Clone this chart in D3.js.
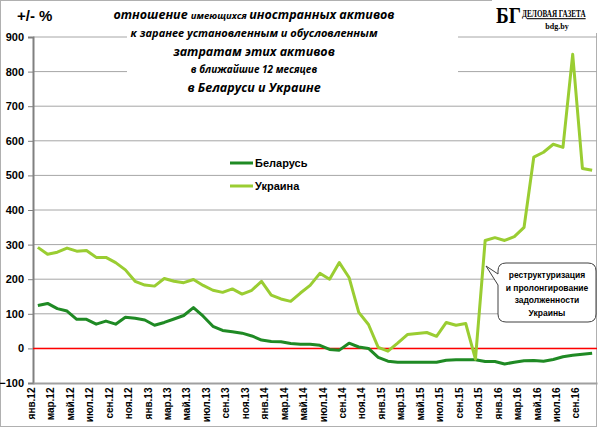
<!DOCTYPE html>
<html>
<head>
<meta charset="utf-8">
<script src="https://cdn.jsdelivr.net/npm/d3@7"></script>
<style>
  body { margin: 0; background: #fff; }
  svg text { font-family: "Liberation Sans", Arial, sans-serif; }
</style>
</head>
<body>
<div id="container"></div>
<script>
/* CONSTANTS AND GLOBALS */
const width = 600,
  height = 429,
  margin = { top: 37, bottom: 46, left: 33, right: 3 };

// month labels, every month jan.12 .. oct.16
const monthNames = ["янв", "фев", "мар", "апр", "май", "июн", "июл", "авг", "сен", "окт", "ноя", "дек"];
const years = ["12", "13", "14", "15", "16"];
const categories = years.flatMap(y => monthNames.map(m => m + "." + y)).slice(0, 58);

const belarus = [124, 130, 115, 108, 84, 84, 70, 79, 70, 90, 87, 82,
  67, 75, 85, 95, 118, 93, 64, 52, 48, 44, 36, 24,
  20, 19, 14, 12, 12, 9, -3, -5, 15, 4, 0, -26,
  -37, -40, -40, -40, -40, -40, -34, -33, -33, -33, -38, -38,
  -45, -40, -36, -35, -37, -32, -24, -20, -17, -14];

const ukraine = [292, 272, 278, 290, 281, 283, 263, 263, 248, 227, 194, 183,
  180, 202, 194, 190, 199, 182, 168, 162, 172, 157, 168, 194,
  154, 143, 136, 160, 182, 217, 200, 248, 205, 104, 69, 3,
  -8, 15, 40, 43, 46, 35, 75, 67, 72, -31, 312, 320,
  312, 323, 350, 553, 567, 590, 581, 850, 520, 515];

const yTicks = [-100, 0, 100, 200, 300, 400, 500, 600, 700, 800, 900];

const seriesNames = ["Беларусь", "Украина"];
const colors = ["#1f8a24", "#9acd32"];

const svg = d3.select("#container")
  .append("svg")
  .attr("width", width)
  .attr("height", height);

// outer frame
svg.append("rect")
  .attr("x", 0.5).attr("y", 0.5)
  .attr("width", width - 4).attr("height", height - 3)
  .attr("fill", "#fff")
  .attr("stroke", "#b0b0b0");

// scales
const xScale = d3.scaleBand()
  .domain(categories)
  .range([margin.left, width - margin.right]);

const yScale = d3.scaleLinear()
  .domain([-100, 900])
  .range([height - margin.bottom, margin.top]);

const xPos = i => xScale(categories[i]) + xScale.bandwidth() / 2;

// grid lines
svg.append("g")
  .selectAll("line")
  .data(yTicks.filter(d => d > -100))
  .join("line")
  .attr("x1", margin.left)
  .attr("x2", width - margin.right)
  .attr("y1", d => yScale(d))
  .attr("y2", d => yScale(d))
  .attr("stroke", "#a6a6a6")
  .attr("stroke-width", 1);

// y axis
const yAxis = d3.axisLeft(yScale).tickValues(yTicks).tickSize(5).tickPadding(4);
const yG = svg.append("g")
  .attr("transform", `translate(${margin.left},0)`)
  .call(yAxis);
yG.select(".domain").attr("stroke", "#808080").attr("stroke-width", 2);
yG.selectAll(".tick line").attr("stroke", "#808080");
yG.selectAll(".tick text")
  .attr("font-size", 11)
  .attr("font-weight", "bold")
  .attr("fill", "#000");

// x axis
const xAxis = d3.axisBottom(xScale)
  .tickValues(categories.filter((d, i) => i % 2 === 0))
  .tickSize(0)
  .tickPadding(5);
const xG = svg.append("g")
  .attr("transform", `translate(0,${height - margin.bottom})`)
  .call(xAxis);
xG.select(".domain").attr("stroke", "#a0a0a0").attr("stroke-width", 2);
xG.selectAll(".tick text")
  .attr("transform", "rotate(-90)")
  .attr("text-anchor", "end")
  .attr("dx", "-0.45em")
  .attr("dy", "-0.3em")
  .attr("x", 0)
  .attr("y", 0)
  .attr("font-size", 10)
  .attr("font-weight", "bold")
  .attr("fill", "#000");

// title block covers the grid
svg.append("rect")
  .attr("x", 127).attr("y", 2)
  .attr("width", 331).attr("height", 92)
  .attr("fill", "#fff");

// zero line
svg.append("line")
  .attr("x1", margin.left)
  .attr("x2", width - margin.right)
  .attr("y1", yScale(0))
  .attr("y2", yScale(0))
  .attr("stroke", "#ff0000")
  .attr("stroke-width", 1.5);

// lines
const lineGen = d3.line()
  .x((d, i) => xPos(i))
  .y(d => yScale(d));

svg.selectAll(".line")
  .data([belarus, ukraine])
  .join("path")
  .attr("class", "line")
  .attr("fill", "none")
  .attr("stroke", (d, i) => colors[i])
  .attr("stroke-width", 3)
  .attr("stroke-linejoin", "round")
  .attr("d", d => lineGen(d));

// legend
const legend = svg.append("g")
  .selectAll("g")
  .data(seriesNames)
  .join("g")
  .attr("transform", (d, i) => `translate(230,${163 + i * 23})`);
legend.append("line")
  .attr("x1", 0).attr("x2", 23)
  .attr("stroke", (d, i) => colors[i])
  .attr("stroke-width", 3);
legend.append("text")
  .attr("x", 25).attr("y", 4)
  .attr("font-size", 11)
  .attr("font-weight", "bold")
  .text(d => d);

// y axis unit
svg.append("text")
  .attr("x", 17).attr("y", 21)
  .attr("font-size", 15)
  .attr("font-weight", "bold")
  .text("+/- %");

// title
const title = svg.append("text")
  .attr("text-anchor", "middle")
  .attr("font-style", "italic")
  .attr("font-weight", "bold")
  .style("font-family", "'Open Sans', sans-serif");
const t1 = title.append("tspan").attr("x", 254).attr("y", 19).attr("font-size", 12.5);
t1.append("tspan").text("отношение ");
t1.append("tspan").attr("font-size", 9.5).text("имеющихся ");
t1.append("tspan").text("иностранных активов");
title.append("tspan").attr("x", 254).attr("y", 37).attr("font-size", 11)
  .text("к заранее  установленным  и обусловленным");
title.append("tspan").attr("x", 254).attr("y", 56).attr("font-size", 12.5)
  .text("затратам этих активов");
title.append("tspan").attr("x", 254).attr("y", 73).attr("font-size", 10)
  .text("в ближайшие 12 месяцев");
title.append("tspan").attr("x", 254).attr("y", 92).attr("font-size", 12.5)
  .text("в Беларуси и Украине");

// logo
const logo = svg.append("g");
logo.append("rect")
  .attr("x", 492).attr("y", 0)
  .attr("width", 106).attr("height", 33)
  .attr("fill", "#fff");
logo.append("text")
  .attr("transform", "translate(496,23) scale(0.8,1)")
  .attr("font-size", 24)
  .attr("font-weight", "bold")
  .style("font-family", "'Liberation Serif', serif")
  .text("БГ");
logo.append("text")
  .attr("transform", "translate(522,17) scale(0.68,1)")
  .attr("font-size", 10.5)
  .attr("font-weight", "bold")
  .style("font-family", "'Liberation Serif', serif")
  .attr("text-decoration", "underline")
  .text("ДЕЛОВАЯ ГАЗЕТА");
logo.append("text")
  .attr("x", 557).attr("y", 29)
  .attr("text-anchor", "middle")
  .attr("font-size", 8)
  .attr("font-weight", "bold")
  .style("font-family", "'Liberation Serif', serif")
  .text("bdg.by");

// callout
const note = svg.append("g");
note.append("path")
  .attr("d", "M506,263 H588 Q596,263 596,271 V314 Q596,322 588,322 H506 Q498,322 498,314 V285 L486,266 L498,274 V271 Q498,263 506,263 Z")
  .attr("fill", "#fff")
  .attr("stroke", "#404040")
  .attr("stroke-width", 1);
const noteLines = ["реструктуризация", "и пролонгирование", "задолженности", "Украины"];
note.append("text")
  .attr("text-anchor", "middle")
  .attr("font-size", 8.5)
  .attr("font-weight", "bold")
  .selectAll("tspan")
  .data(noteLines)
  .join("tspan")
  .attr("x", 547)
  .attr("y", (d, i) => 278 + i * 12.5)
  .text(d => d);
</script>
</body>
</html>
